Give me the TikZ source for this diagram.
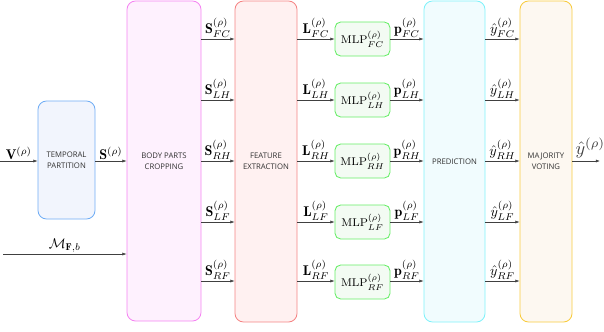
\documentclass[tikz,border=0pt]{standalone}
\usepackage{fontspec}
\usepackage{amsmath}
\newfontfamily\labelfont{Open Sans}
\usetikzlibrary{arrows.meta, positioning}

\definecolor{tempDraw}{HTML}{72AEF5}
\definecolor{tempFill}{HTML}{F2F5FD}
\definecolor{cropDraw}{HTML}{F585F2}
\definecolor{cropFill}{HTML}{FEF1FE}
\definecolor{featDraw}{HTML}{F58585}
\definecolor{featFill}{HTML}{FFF1F1}
\definecolor{mlpDraw}{HTML}{66EE66}
\definecolor{mlpFill}{HTML}{F3FBF3}
\definecolor{predDraw}{HTML}{80F2FA}
\definecolor{predFill}{HTML}{F1FCFE}
\definecolor{voteDraw}{HTML}{F8CC40}
\definecolor{voteFill}{HTML}{FDF8F1}

\tikzset{
  stage/.style={rectangle, rounded corners=6pt, line width=0.6pt, align=center,
    inner sep=0pt, text=black!80, font=\labelfont\fontsize{5.5}{8}\selectfont},
  mlp/.style={rectangle, rounded corners=4pt, line width=0.6pt, draw=mlpDraw,
    fill=mlpFill, minimum width=55*0.025cm, minimum height=34*0.025cm,
    inner sep=0pt, font=\footnotesize},
  flow/.style={-{Latex[length=3pt,width=2.2pt]}, line width=0.4pt, black!75},
  lbl/.style={above, inner sep=1pt, text=black}
}

\begin{document}
\begin{tikzpicture}[x=0.025cm, y=-0.025cm]
  \useasboundingbox (0,0) rectangle (604,331);

  % pipeline stages
  \node[stage, draw=tempDraw, fill=tempFill, minimum width=57*0.025cm, minimum height=118*0.025cm] (temporal) at (66.5,160) {TEMPORAL\\PARTITION};
  \node[stage, draw=cropDraw, fill=cropFill, minimum width=74*0.025cm, minimum height=320*0.025cm] (crop) at (164,161) {BODY PARTS\\CROPPING};
  \node[stage, draw=featDraw, fill=featFill, minimum width=62*0.025cm, minimum height=321*0.025cm] (feat) at (266,161.5) {FEATURE\\EXTRACTION};
  \node[stage, draw=predDraw, fill=predFill, minimum width=61*0.025cm, minimum height=321*0.025cm] (pred) at (454.5,161.5) {PREDICTION};
  \node[stage, draw=voteDraw, fill=voteFill, minimum width=52*0.025cm, minimum height=321*0.025cm] (vote) at (546,161.5) {MAJORITY\\VOTING};

  % rows of the five body parts
  \coordinate (rowFC) at (0,39);
  \coordinate (rowLH) at (0,100);
  \coordinate (rowRH) at (0,161);
  \coordinate (rowLF) at (0,222);
  \coordinate (rowRF) at (0,281);
  \coordinate (inV) at (0,161);
  \coordinate (inM) at (3,254);
  \coordinate (outY) at (600,161);

  % one classifier per body part
  \foreach \p/\y in {FC/39, LH/100, RH/161, LF/222, RF/282}
    \node[mlp] (mlp\p) at (362.5,\y) {$\mathrm{MLP}^{(\rho)}_{\p}$};

  % inputs
  \draw[flow] (inV) -- (temporal.west |- inV) node[lbl, midway] {$\mathbf{V}^{(\rho)}$};
  \draw[flow] (temporal.east |- inV) -- (crop.west |- inV) node[lbl, midway] {$\mathbf{S}^{(\rho)}$};
  \draw[flow] (inM) -- (crop.west |- inM) node[lbl, midway] {$\mathcal{M}_{\mathbf{F},b}$};

  % per body part connections
  \foreach \p in {FC, LH, RH, LF, RF} {
    \draw[flow] (crop.east |- row\p) -- (feat.west |- row\p) node[lbl, midway] {$\mathbf{S}^{(\rho)}_{\p}$};
    \draw[flow] (feat.east |- row\p) -- (mlp\p.west |- row\p) node[lbl, midway] {$\mathbf{L}^{(\rho)}_{\p}$};
    \draw[flow] (mlp\p.east |- row\p) -- (pred.west |- row\p) node[lbl, midway] {$\mathbf{p}^{(\rho)}_{\p}$};
    \draw[flow] (pred.east |- row\p) -- (vote.west |- row\p) node[lbl, midway] {$\hat{y}^{(\rho)}_{\p}$};
  }

  % output
  \draw[flow] (vote.east |- outY) -- (outY) node[above right, pos=0, inner sep=1.5pt, scale=1.3] {$\hat{y}^{(\rho)}$};
\end{tikzpicture}
\end{document}
